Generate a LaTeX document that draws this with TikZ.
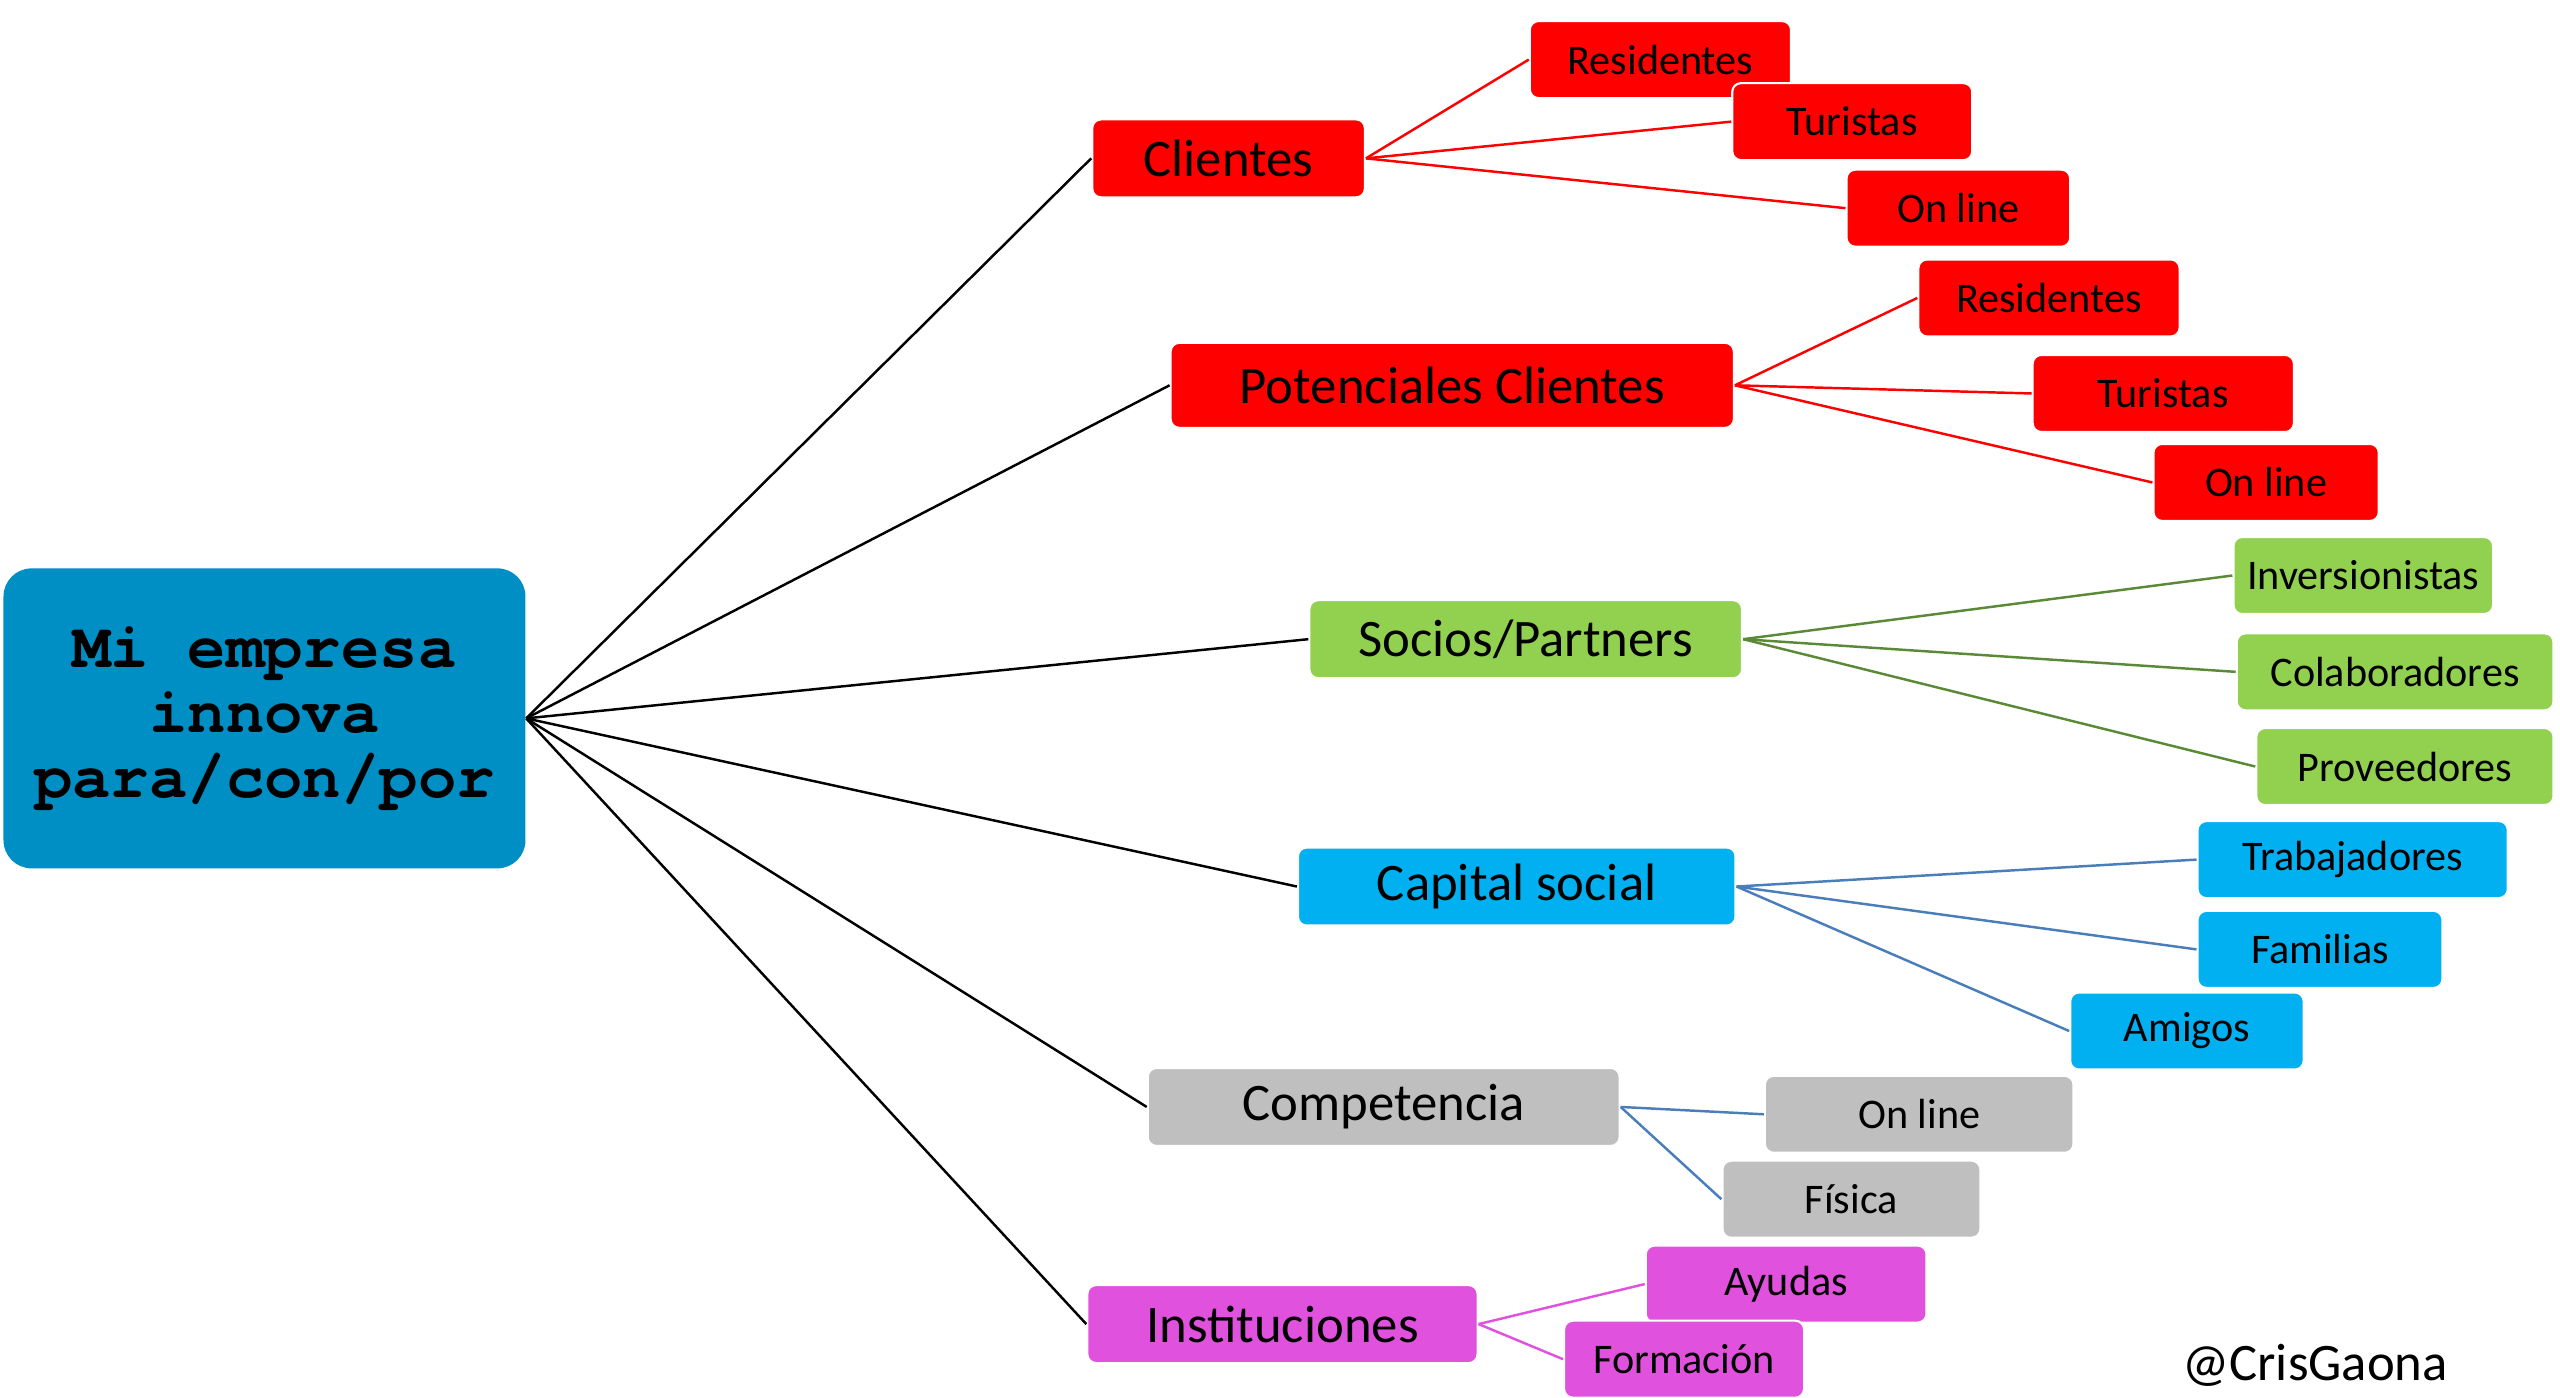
\documentclass[tikz,border=0pt]{standalone}
\usepackage{fontspec}
\setmainfont{Carlito}
\newfontfamily\raizfont{texgyrecursor}[Extension=.otf, UprightFont=*-regular, BoldFont=*-bold]
\usepackage{tikz}

\definecolor{raizazul}{HTML}{008FC5}
\definecolor{rojo}{HTML}{FF0000}
\definecolor{verde}{HTML}{92D050}
\definecolor{verdelinea}{HTML}{5A8A38}
\definecolor{celeste}{HTML}{00B0F0}
\definecolor{azullinea}{HTML}{4A7EBB}
\definecolor{gris}{HTML}{BFBFBF}
\definecolor{magenta}{HTML}{E052DE}

\begin{document}
\begin{tikzpicture}[
  x=0.016327cm, y=-0.016327cm,
  raiz/.style={
    rectangle,
    fill=raizazul,
    rounded corners=8pt,
    align=center,
    minimum width=5.22cm,
    minimum height=3.0cm,
    inner sep=0pt,
    font=\raizfont\bfseries\fontsize{18.2}{18.5}\selectfont
  },
  rama/.style={
    rectangle,
    draw=white,
    line width=0.6pt,
    rounded corners=2.5pt,
    minimum height=0.78cm,
    inner sep=0pt,
    font=\fontsize{15}{18}\selectfont
  },
  hoja/.style={
    rectangle,
    draw=white,
    line width=0.6pt,
    rounded corners=2.5pt,
    minimum height=0.77cm,
    inner sep=0pt,
    font=\fontsize{12}{14}\selectfont
  },
  ancho/.style={minimum width=#1*0.016327cm},
  linea/.style={line width=0.7pt}
]
\useasboundingbox (0,0) rectangle (1568,856);

% centro
\node[raiz] (empresa) at (162,440) {Mi empresa\\innova\\para/con/por};

% ramas principales
\node[rama, fill=rojo, ancho=167] (clientes) at (752.5,97) {Clientes};
\node[rama, fill=rojo, ancho=345, minimum height=0.85cm] (potenciales) at (889.5,236) {Potenciales Clientes};
\node[rama, fill=verde, ancho=265] (socios) at (934.5,391.5) {Socios/Partners};
\node[rama, fill=celeste, ancho=268] (capital) at (929,543) {Capital social};
\node[rama, fill=gris, ancho=289] (competencia) at (847.5,678) {Competencia};
\node[rama, fill=magenta, ancho=239] (instituciones) at (785.5,811) {Instituciones};

% hojas
\node[hoja, fill=rojo, ancho=160] (resC) at (1017,36.5) {Residentes};
\node[hoja, fill=rojo, ancho=147] (turC) at (1134.5,74.5) {Turistas};
\node[hoja, fill=rojo, ancho=137] (onlC) at (1199.5,127.5) {On line};

\node[hoja, fill=rojo, ancho=160] (resP) at (1255,182.5) {Residentes};
\node[hoja, fill=rojo, ancho=160] (turP) at (1325,241) {Turistas};
\node[hoja, fill=rojo, ancho=138] (onlP) at (1388,295.5) {On line};

\node[hoja, fill=verde, ancho=159] (inversion) at (1447.5,352.5) {Inversionistas};
\node[hoja, fill=verde, ancho=194] (colabora) at (1467,411.5) {Colaboradores};
\node[hoja, fill=verde, ancho=182] (provee) at (1473,469.5) {Proveedores};

\node[hoja, fill=celeste, ancho=190] (trabaja) at (1441,526.5) {Trabajadores};
\node[hoja, fill=celeste, ancho=150] (familia) at (1421,581.5) {Familias};
\node[hoja, fill=celeste, ancho=143] (amigos) at (1339.5,631.5) {Amigos};

\node[hoja, fill=gris, ancho=189] (onlComp) at (1175.5,682.5) {On line};
\node[hoja, fill=gris, ancho=158] (fisica) at (1134,734.5) {Física};

\node[hoja, fill=magenta, ancho=172] (ayudas) at (1094,786.5) {Ayudas};
\node[hoja, fill=magenta, ancho=147] (formacion) at (1031.5,832.5) {Formación};

\node[font=\fontsize{15}{18}\selectfont] (firma) at (1418,836) {@CrisGaona};

% conectores
\foreach \r in {clientes, potenciales, socios, capital, competencia, instituciones}
  \draw[linea, black] (empresa.east) -- (\r.west);

\foreach \h in {resC, turC, onlC}
  \draw[linea, rojo] (clientes.east) -- (\h.west);
\foreach \h in {resP, turP, onlP}
  \draw[linea, rojo] (potenciales.east) -- (\h.west);
\foreach \h in {inversion, colabora, provee}
  \draw[linea, verdelinea] (socios.east) -- (\h.west);
\foreach \h in {trabaja, familia, amigos}
  \draw[linea, azullinea] (capital.east) -- (\h.west);
\foreach \h in {onlComp, fisica}
  \draw[linea, azullinea] (competencia.east) -- (\h.west);
\foreach \h in {ayudas, formacion}
  \draw[linea, magenta] (instituciones.east) -- (\h.west);

\end{tikzpicture}
\end{document}
